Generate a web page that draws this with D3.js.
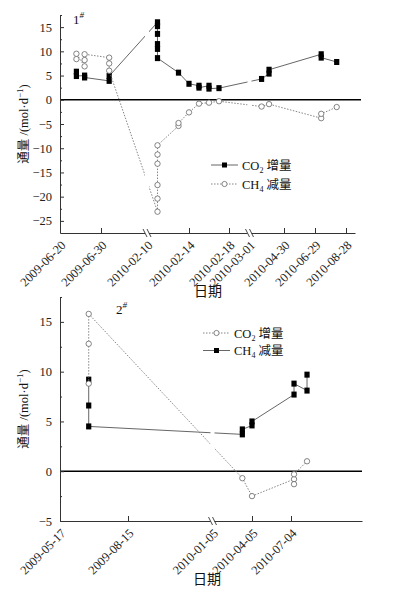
<!DOCTYPE html>
<html>
<head>
<meta charset="utf-8">
<script src="https://cdn.jsdelivr.net/npm/d3@7"></script>
<style>
  body { margin: 0; background: #fff; }
  text { font-family: "Liberation Serif", "Noto Sans CJK SC", serif; }
</style>
</head>
<body>
<script>
// ---- panel 1# data ----
var p1Co2Dates = ["2009-06-24","2009-06-24","2009-06-26","2009-06-26","2009-07-02","2009-07-02",
  "2010-02-11","2010-02-11","2010-02-11","2010-02-11","2010-02-11","2010-02-11",
  "2010-02-13","2010-02-14","2010-02-15","2010-02-15","2010-02-16","2010-02-16","2010-02-17",
  "2010-03-22","2010-04-04","2010-04-04","2010-07-11","2010-07-11","2010-08-10"];
var p1Co2Vals = [5.8,4.9, 5.0,4.6, 3.9,4.9, 16.0,15.2,13.6,11.5,10.5,8.6,
  5.6, 3.3, 2.9,2.5, 2.9,2.3, 2.4, 4.3, 5.4,6.2, 9.4,8.7, 7.8];

var p1Ch4Dates = ["2009-06-24","2009-06-24","2009-06-26","2009-06-26","2009-06-26",
  "2009-07-02","2009-07-02","2009-07-02",
  "2010-02-11","2010-02-11","2010-02-11","2010-02-11","2010-02-11","2010-02-11",
  "2010-02-13","2010-02-13","2010-02-14","2010-02-15","2010-02-16","2010-02-17",
  "2010-03-22","2010-04-04","2010-07-11","2010-07-11","2010-08-10"];
var p1Ch4Vals = [8.4,9.5, 6.9,8.2,9.4, 8.7,7.5,6.0,
  -23.1,-20.4,-17.6,-13.2,-11.3,-9.4, -5.4,-4.8, -2.6, -0.8, -0.6, -0.3,
  -1.4, -0.9, -3.8,-2.9, -1.5];

var p1TickLabels = ["2009-06-20","2009-06-30","2010-02-10","2010-02-14","2010-02-18",
  "2010-03-01","2010-04-30","2010-06-29","2010-08-28"];
var p1BreakLabels = ["2010-02-10","2010-03-01"];

// ---- panel 2# data ----
var p2Co2Dates = ["2009-06-24","2009-06-24","2009-06-24","2010-03-14","2010-04-05",
  "2010-07-11","2010-07-11","2010-07-11","2010-08-10"];
var p2Co2Vals = [8.8,12.8,15.8, -0.7, -2.5, -0.8,-1.3,-0.3, 1.0];

var p2Ch4Dates = ["2009-06-24","2009-06-24","2009-06-24","2010-03-14","2010-03-14",
  "2010-04-05","2010-04-05","2010-07-11","2010-07-11","2010-08-10","2010-08-10"];
var p2Ch4Vals = [9.2,6.6,4.5, 3.7,4.2, 4.6,5.0, 7.7,8.8, 8.1,9.7];

var p2TickLabels = ["2009-05-17","2009-08-15","2010-01-05","2010-04-05","2010-07-04"];
var p2BreakLabels = ["2010-01-05"];

var parse = d3.timeParse("%Y-%m-%d");
var fmt = d3.timeFormat("%Y-%m-%d");

var W = 398, H = 599;
var svg = d3.select("body").append("svg").attr("width", W).attr("height", H);

function drawPanel(cfg) {
  var g = svg.append("g");

  var x = d3.scaleTime()
    .domain(cfg.xAnchors.map(parse))
    .range(cfg.xRange);
  var y = d3.scaleLinear().domain(cfg.yDomain).range([cfg.bottom, cfg.top]);

  var left = cfg.xRange[0], right = cfg.xRange[cfg.xRange.length - 1];

  // clip with small gaps at the axis breaks
  var clipId = "clip" + cfg.id;
  var clip = g.append("clipPath").attr("id", clipId);
  var edges = [left - 10].concat(cfg.breaks.map(function(b){ return x(parse(b)); })).concat([right + 10]);
  for (var i = 0; i < edges.length - 1; i++) {
    var a = i == 0 ? edges[i] : edges[i] + 2;
    var b = i == edges.length - 2 ? edges[i + 1] : edges[i + 1] - 2;
    clip.append("rect").attr("x", a).attr("y", 0).attr("width", b - a).attr("height", H);
  }

  // zero line
  g.append("line")
    .attr("x1", left).attr("x2", cfg.zeroEnd)
    .attr("y1", y(0)).attr("y2", y(0))
    .attr("stroke", "#000").attr("stroke-width", 1.5);

  // y axis
  var yAxis = d3.axisLeft(y).tickValues(cfg.yTicks).tickSizeInner(-4).tickSizeOuter(0).tickPadding(8);
  var ya = g.append("g").attr("transform", "translate(" + left + ",0)").call(yAxis);
  ya.selectAll("text").style("font-size", "12.5px").attr("fill", "#222");
  ya.select(".domain").attr("stroke", "#333");
  ya.selectAll(".tick line").attr("stroke", "#333");
  var yMinor = d3.axisLeft(y).tickValues(cfg.yMinor).tickSizeInner(-2).tickSizeOuter(0).tickFormat("");
  g.append("g").attr("transform", "translate(" + left + ",0)").call(yMinor)
    .call(function(s){ s.select(".domain").remove(); s.selectAll("line").attr("stroke", "#333"); });

  // x axis
  var xAxis = d3.axisBottom(x).tickValues(cfg.xTicks.map(parse)).tickSizeInner(-5).tickSizeOuter(0).tickFormat("");
  var xa = g.append("g").attr("transform", "translate(0," + cfg.bottom + ")").call(xAxis);
  xa.select(".domain").attr("stroke", "#333");
  xa.selectAll(".tick line").attr("stroke", "#333")
    .attr("display", function(d){
      var s = fmt(d);
      return (cfg.breaks.indexOf(s) >= 0 || +d == +parse(cfg.xAnchors[0])) ? "none" : null;
    });
  xa.selectAll(".tick").append("text")
    .attr("fill", "#222")
    .attr("text-anchor", "end")
    .attr("transform", "translate(6,13) rotate(-45)")
    .style("font-size", "12.5px")
    .text(function(d){ return fmt(d); });

  // break marks on x axis
  cfg.breaks.forEach(function(b){
    var bx = x(parse(b));
    xa.append("line").attr("x1", bx - 2).attr("x2", bx + 2).attr("y1", 0).attr("y2", 0)
      .attr("stroke", "#fff").attr("stroke-width", 2);
    [-2, 2].forEach(function(o){
      xa.append("line")
        .attr("x1", bx + o - 2).attr("y1", -4)
        .attr("x2", bx + o + 2).attr("y2", 4)
        .attr("stroke", "#333").attr("stroke-width", 0.9);
    });
  });

  // axis titles
  g.append("text")
    .attr("transform", "translate(" + cfg.yTitleX + "," + ((cfg.top + cfg.bottom) / 2) + ") rotate(-90)")
    .attr("text-anchor", "middle").style("font-size", "12.5px").attr("fill", "#111")
    .call(function(t){
      t.append("tspan").text("通量 /(mol·d");
      t.append("tspan").attr("dy", -5).style("font-size", "9px").text("−1");
      t.append("tspan").attr("dy", 5).text(")");
    });
  g.append("text")
    .attr("x", cfg.xTitleX).attr("y", cfg.xTitleY)
    .attr("text-anchor", "middle").style("font-size", "14px").attr("fill", "#111")
    .text("日期");

  // panel label
  g.append("text").attr("x", cfg.label[0]).attr("y", cfg.label[1])
    .style("font-size", "13px").attr("fill", "#111")
    .call(function(t){
      t.append("tspan").text(cfg.labelText);
      t.append("tspan").attr("dy", -6).style("font-size", "9px").style("font-style", "italic").text("#");
    });

  // series
  var line = d3.line().x(function(d){ return x(d.date); }).y(function(d){ return y(d.value); });

  cfg.series.forEach(function(s){
    var pts = s.dates.map(function(d, i){ return { date: parse(d), value: s.values[i] }; });
    g.append("path").datum(pts)
      .attr("clip-path", "url(#" + clipId + ")")
      .attr("d", line)
      .attr("fill", "none")
      .attr("stroke", s.square ? "#555" : "#777")
      .attr("stroke-width", 0.9)
      .attr("stroke-dasharray", s.square ? null : "1.5,1.5");
    drawMarkers(g, pts, s.square, x, y);
  });

  // legend
  cfg.legend.forEach(function(L, i){
    var ly = cfg.legendPos[1] + i * cfg.legendStep;
    var lx = cfg.legendPos[0];
    g.append("line").attr("x1", lx).attr("x2", lx + 27).attr("y1", ly).attr("y2", ly)
      .attr("stroke", L.square ? "#555" : "#777").attr("stroke-width", 0.9)
      .attr("stroke-dasharray", L.square ? null : "1.5,1.5");
    if (L.square) {
      g.append("rect").attr("x", lx + 13.5 - 2.5).attr("y", ly - 2.5).attr("width", 5).attr("height", 5).attr("fill", "#000");
    } else {
      g.append("circle").attr("cx", lx + 13.5).attr("cy", ly).attr("r", 2.6)
        .attr("fill", "#fff").attr("stroke", "#666").attr("stroke-width", 0.8);
    }
    g.append("text").attr("x", lx + 31).attr("y", ly + 4.5)
      .style("font-size", "12.5px").attr("fill", "#111")
      .call(function(t){
        t.append("tspan").text(L.name[0]);
        t.append("tspan").attr("dy", 3).style("font-size", "8px").text(L.name[1]);
        t.append("tspan").attr("dy", -3).text(" " + L.name[2]);
      });
  });
}

function drawMarkers(g, pts, square, x, y) {
  if (square) {
    g.selectAll(null).data(pts).enter().append("rect")
      .attr("x", function(d){ return x(d.date) - 2.6; })
      .attr("y", function(d){ return y(d.value) - 3; })
      .attr("width", 5.2).attr("height", 6)
      .attr("fill", "#000");
  } else {
    g.selectAll(null).data(pts).enter().append("circle")
      .attr("cx", function(d){ return x(d.date); })
      .attr("cy", function(d){ return y(d.value); })
      .attr("r", 2.7)
      .attr("fill", "#fff").attr("stroke", "#666").attr("stroke-width", 0.8);
  }
}

drawPanel({
  id: 1,
  top: 15, bottom: 233,
  yDomain: [-27.5, 17.5],
  yTicks: [-25, -20, -15, -10, -5, 0, 5, 10, 15],
  yMinor: [-22.5, -17.5, -12.5, -7.5, -2.5, 2.5, 7.5, 12.5, 17.5],
  xAnchors: ["2009-06-20","2009-06-30","2009-07-11","2010-02-10","2010-02-14","2010-02-18",
    "2010-02-20","2010-03-01","2010-04-30","2010-06-29","2010-08-28","2010-09-14"],
  xRange: [60, 101, 146, 147, 189, 229, 248.5, 249.5, 284, 315, 346, 355],
  xTicks: p1TickLabels,
  breaks: p1BreakLabels,
  zeroEnd: 361,
  yTitleX: 28,
  xTitleX: 208, xTitleY: 296,
  label: [73, 24], labelText: "1",
  series: [
    { dates: p1Co2Dates, values: p1Co2Vals, square: true },
    { dates: p1Ch4Dates, values: p1Ch4Vals, square: false }
  ],
  legend: [
    { name: ["CO", "2", "增量"], square: true },
    { name: ["CH", "4", "减量"], square: false }
  ],
  legendPos: [211, 165], legendStep: 19
});

drawPanel({
  id: 2,
  top: 297, bottom: 521,
  yDomain: [-5, 17.5],
  yTicks: [-5, 0, 5, 10, 15],
  yMinor: [-2.5, 2.5, 7.5, 12.5, 17.5],
  xAnchors: ["2009-05-17","2009-08-15","2009-12-04","2010-01-05","2010-04-05","2010-07-04","2010-12-15"],
  xRange: [60, 128, 211.5, 212.5, 252, 291, 362],
  xTicks: p2TickLabels,
  breaks: p2BreakLabels,
  zeroEnd: 362,
  yTitleX: 28,
  xTitleX: 207, xTitleY: 584,
  label: [116, 314], labelText: "2",
  series: [
    { dates: p2Ch4Dates, values: p2Ch4Vals, square: true },
    { dates: p2Co2Dates, values: p2Co2Vals, square: false }
  ],
  legend: [
    { name: ["CO", "2", "增量"], square: false },
    { name: ["CH", "4", "减量"], square: true }
  ],
  legendPos: [203, 333], legendStep: 17.5
});
</script>
</body>
</html>
